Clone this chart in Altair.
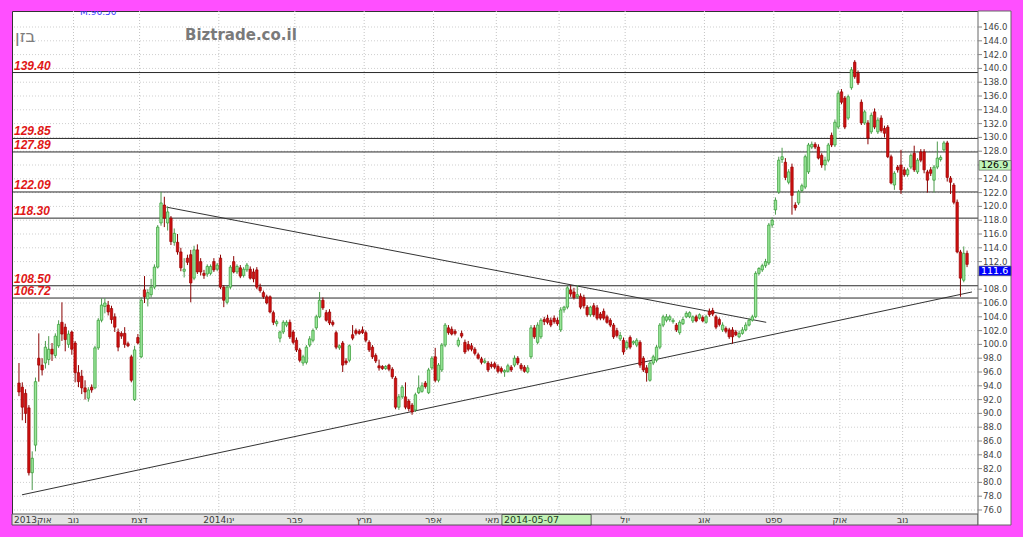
import altair as alt
import pandas as pd

# Daily candles for BAZAN, Oct 2013 - Nov 2014 (one entry per trading day)
opens = [
    94.4, 93.8, 92.9, 90.8, 81.4, 85.4, 98.0, 97.0, 97.3, 97.8,
    99.3, 98.4, 99.8, 103.2, 102.5, 100.0, 101.8, 100.2, 95.9, 95.4,
    93.7, 92.2, 93.8, 93.7, 99.5, 103.5, 105.5, 105.7, 105.2, 104.0,
    101.8, 101.6, 101.6, 100.1, 98.2, 92.0, 101.0, 98.2, 107.9, 106.6,
    107.2, 108.3, 111.2, 117.6, 120.2, 117.6, 118.3, 114.8, 114.8, 113.4,
    110.6, 112.5, 113.0, 109.6, 113.7, 112.0, 110.3, 110.2, 110.3, 112.0,
    110.9, 112.5, 108.3, 106.1, 108.3, 112.0, 110.5, 111.1, 110.0, 110.8,
    110.9, 110.5, 110.8, 108.3, 107.5, 106.9, 106.9, 104.6, 103.0, 100.9,
    101.8, 102.8, 103.2, 101.8, 100.6, 99.2, 97.3, 97.4, 99.9, 100.6,
    102.4, 104.0, 106.4, 104.6, 104.7, 103.2, 101.7, 99.5, 100.2, 97.6,
    97.7, 101.4, 102.0, 101.9, 102.1, 101.7, 100.3, 99.6, 98.4, 96.9,
    96.8, 96.5, 97.0, 96.4, 95.1, 90.9, 92.4, 92.4, 91.8, 91.2,
    90.5, 93.0, 93.2, 94.4, 93.0, 96.6, 98.2, 94.8, 96.3, 99.9,
    102.4, 102.2, 101.9, 99.9, 101.6, 100.3, 100.0, 99.8, 99.3, 98.5,
    97.9, 97.4, 97.3, 97.1, 97.2, 96.8, 96.5, 96.0, 96.1, 96.7,
    97.0, 98.0, 97.0, 96.7, 96.0, 98.2, 102.4, 100.3, 101.1, 103.6,
    103.8, 103.5, 103.8, 103.5, 102.1, 105.0, 105.4, 107.9, 107.6, 106.9,
    107.0, 106.8, 105.4, 104.3, 105.6, 105.3, 104.4, 104.8, 104.0, 103.5,
    102.8, 102.0, 100.8, 100.6, 99.5, 101.0, 100.2, 99.9, 100.3, 98.0,
    96.6, 94.8, 97.3, 97.7, 99.6, 102.8, 103.5, 103.6, 103.3, 102.8,
    101.7, 103.0, 104.0, 104.0, 103.4, 104.0, 103.8, 103.9, 103.2, 104.8,
    104.9, 104.0, 103.6, 102.1, 102.3, 102.1, 102.1, 101.8, 101.1, 101.6,
    102.1, 102.8, 103.5, 104.0, 110.3, 110.8, 111.4, 111.8, 117.3, 119.5,
    122.1, 126.8, 126.4, 123.5, 125.7, 120.2, 120.5, 122.3, 122.8, 125.0,
    128.6, 129.0, 128.6, 127.4, 126.0, 126.7, 130.3, 128.9, 131.5, 136.6,
    135.7, 132.8, 137.2, 140.9, 139.3, 135.1, 132.1, 132.1, 130.8, 133.7,
    130.8, 132.8, 131.3, 131.5, 127.2, 123.1, 125.7, 126.0, 125.3, 124.6,
    125.7, 127.7, 125.0, 127.9, 127.9, 125.0, 125.3, 123.8, 125.7, 126.8,
    128.2, 129.2, 124.1, 123.1, 120.6, 113.4, 109.3, 113.2,
]
highs = [
    97.3, 94.5, 93.5, 91.2, 84.5, 95.2, 101.6, 98.0, 100.5, 101.2,
    100.2, 101.6, 103.5, 106.1, 103.0, 102.0, 102.0, 100.5, 97.0, 96.3,
    94.8, 93.8, 94.2, 99.8, 103.8, 106.7, 106.7, 106.3, 105.6, 104.5,
    102.3, 101.9, 102.5, 100.4, 98.5, 99.8, 101.5, 106.8, 109.9, 108.0,
    109.5, 111.6, 117.3, 122.1, 121.4, 120.0, 118.6, 116.8, 116.0, 114.0,
    112.5, 113.0, 113.7, 114.3, 114.5, 112.5, 110.8, 111.6, 111.6, 112.5,
    111.8, 113.0, 108.6, 108.5, 111.5, 112.8, 111.6, 111.5, 111.2, 111.8,
    111.3, 111.0, 111.2, 108.8, 107.8, 107.2, 107.1, 104.9, 103.6, 102.0,
    103.5, 103.5, 103.6, 102.1, 101.0, 99.5, 98.5, 99.9, 101.2, 102.3,
    104.3, 107.6, 106.8, 105.0, 105.1, 103.5, 102.0, 100.0, 100.5, 98.0,
    100.0, 102.8, 102.3, 102.2, 102.6, 102.0, 100.6, 99.9, 98.7, 97.8,
    97.0, 97.0, 97.2, 96.7, 95.4, 92.8, 94.1, 94.5, 92.1, 91.5,
    93.0, 95.5, 94.5, 94.7, 96.6, 98.3, 99.5, 97.3, 100.2, 103.1,
    102.8, 102.6, 102.2, 101.0, 102.0, 100.7, 100.5, 100.2, 99.6, 98.8,
    98.2, 98.0, 97.6, 97.5, 97.5, 97.1, 96.8, 96.4, 97.2, 97.0,
    98.4, 98.3, 97.3, 97.0, 97.0, 102.8, 102.8, 103.2, 103.8, 104.0,
    104.3, 103.9, 104.2, 103.9, 105.4, 105.6, 108.5, 108.6, 108.2, 108.6,
    107.4, 107.2, 105.7, 105.6, 106.0, 105.7, 104.7, 105.2, 104.3, 103.8,
    103.1, 102.4, 101.8, 101.0, 100.6, 101.3, 100.6, 100.9, 100.6, 98.3,
    97.0, 97.6, 98.5, 99.9, 103.1, 104.3, 104.4, 104.3, 103.8, 103.1,
    103.5, 104.0, 104.8, 104.8, 104.2, 104.3, 104.5, 104.2, 104.3, 105.2,
    105.3, 104.3, 103.9, 103.2, 102.6, 102.4, 102.5, 102.1, 102.0, 102.5,
    103.2, 103.8, 104.3, 110.6, 111.2, 111.7, 112.4, 117.6, 118.4, 121.3,
    127.2, 128.5, 127.0, 125.4, 126.2, 120.6, 122.4, 123.3, 127.5, 129.2,
    129.4, 129.3, 129.0, 127.7, 127.2, 129.2, 130.7, 132.6, 136.8, 137.0,
    136.0, 136.2, 140.2, 141.2, 139.7, 135.5, 134.0, 132.5, 133.6, 134.2,
    132.9, 133.2, 131.7, 131.8, 127.5, 125.1, 126.0, 128.2, 125.7, 125.6,
    127.7, 128.8, 127.0, 128.3, 128.3, 125.3, 125.7, 126.0, 129.4, 127.4,
    129.5, 129.5, 124.4, 123.4, 121.0, 113.7, 114.2, 113.6,
]
lows = [
    92.5, 89.0, 88.6, 81.0, 78.9, 84.5, 94.6, 95.5, 96.5, 97.0,
    97.6, 98.0, 99.5, 100.5, 99.0, 99.5, 98.5, 94.5, 93.8, 92.8,
    92.0, 91.7, 93.0, 93.5, 99.2, 103.2, 104.5, 104.2, 103.0, 101.8,
    99.0, 100.8, 99.5, 99.6, 94.5, 91.8, 100.0, 98.0, 106.0, 105.5,
    106.8, 108.0, 111.0, 117.2, 117.0, 116.5, 114.4, 114.3, 113.0, 110.6,
    109.7, 111.5, 106.1, 109.3, 110.2, 110.0, 109.5, 109.8, 110.0, 110.5,
    110.6, 108.0, 105.4, 105.8, 108.0, 110.3, 110.2, 109.6, 109.7, 110.5,
    109.4, 109.0, 108.0, 107.5, 106.6, 105.8, 104.5, 102.8, 102.6, 100.3,
    101.5, 102.5, 100.8, 100.0, 98.9, 97.4, 96.9, 97.1, 99.6, 100.3,
    102.1, 103.8, 105.0, 103.3, 102.8, 102.6, 99.3, 99.2, 96.0, 97.0,
    97.4, 100.6, 101.3, 101.4, 101.5, 100.3, 98.9, 97.9, 97.3, 96.2,
    96.3, 96.3, 96.1, 95.0, 90.6, 90.5, 92.1, 90.6, 90.3, 89.8,
    90.2, 92.8, 93.0, 93.6, 92.8, 96.3, 94.5, 94.5, 96.0, 99.6,
    101.4, 101.3, 101.3, 99.6, 100.9, 98.6, 99.0, 99.0, 98.4, 97.8,
    97.1, 97.2, 96.0, 96.5, 96.4, 95.8, 95.8, 95.3, 95.9, 96.0,
    96.7, 97.0, 96.2, 95.9, 95.8, 97.9, 100.8, 100.0, 100.8, 102.8,
    102.9, 102.5, 103.0, 102.7, 101.8, 104.6, 105.1, 106.9, 106.5, 106.6,
    105.1, 105.2, 104.0, 104.0, 104.0, 103.5, 103.5, 103.5, 103.0, 102.5,
    100.8, 101.0, 100.5, 98.5, 99.2, 99.3, 99.9, 99.6, 96.6, 96.0,
    94.6, 94.6, 97.0, 97.4, 99.3, 102.5, 103.2, 103.3, 103.0, 101.8,
    101.4, 102.8, 103.8, 103.8, 103.1, 103.2, 103.6, 103.2, 103.0, 104.0,
    104.1, 102.2, 102.6, 101.8, 101.6, 100.8, 100.1, 101.2, 100.9, 101.4,
    101.9, 102.6, 103.3, 103.8, 110.0, 110.5, 111.1, 111.5, 116.9, 118.8,
    121.8, 126.3, 123.8, 123.2, 118.8, 119.4, 120.2, 122.0, 122.5, 124.7,
    128.3, 128.3, 126.8, 125.6, 125.2, 126.4, 128.6, 128.6, 131.2, 134.8,
    131.2, 132.5, 136.9, 138.5, 137.6, 131.8, 131.8, 129.0, 130.5, 131.2,
    130.5, 130.7, 130.0, 127.0, 123.2, 122.4, 124.9, 121.8, 124.3, 124.3,
    125.4, 125.0, 124.7, 126.4, 124.8, 122.0, 124.4, 122.0, 125.4, 126.5,
    127.9, 123.6, 121.8, 120.3, 113.2, 106.9, 109.0, 111.2,
]
closes = [
    93.1, 90.9, 90.0, 81.4, 83.5, 94.6, 97.0, 96.3, 99.6, 99.3,
    98.6, 101.2, 102.9, 101.5, 100.7, 101.5, 99.3, 95.9, 94.6, 93.7,
    93.1, 93.4, 93.4, 99.5, 103.5, 105.7, 106.0, 104.7, 103.6, 102.5,
    99.6, 101.2, 100.0, 99.8, 94.8, 99.2, 100.2, 106.4, 106.9, 107.5,
    108.3, 111.2, 117.0, 120.5, 118.3, 119.2, 114.9, 116.1, 113.4, 111.1,
    110.9, 111.9, 108.9, 113.7, 110.5, 110.5, 110.0, 111.3, 111.3, 110.8,
    111.5, 108.3, 106.4, 108.3, 111.2, 110.5, 111.3, 109.9, 110.9, 111.5,
    109.6, 109.5, 108.3, 107.8, 106.9, 106.0, 104.7, 103.2, 103.3, 101.8,
    103.2, 103.2, 101.1, 100.3, 99.2, 97.7, 98.2, 99.6, 100.8, 102.0,
    104.0, 106.4, 105.3, 103.5, 103.1, 102.9, 99.6, 99.8, 97.0, 97.3,
    99.8, 100.9, 101.6, 101.6, 101.7, 100.6, 99.2, 98.2, 97.6, 96.6,
    96.5, 96.8, 96.4, 95.3, 90.9, 92.4, 93.8, 90.9, 90.7, 90.2,
    92.7, 93.7, 94.0, 93.9, 96.3, 98.0, 94.8, 97.0, 99.9, 102.8,
    101.7, 101.5, 101.6, 100.6, 101.2, 98.9, 99.3, 99.3, 98.7, 98.0,
    97.4, 97.6, 96.3, 96.8, 96.7, 96.1, 96.1, 96.2, 96.9, 96.3,
    98.0, 97.3, 96.5, 96.1, 96.6, 102.4, 101.1, 102.8, 103.5, 103.3,
    103.2, 102.8, 103.3, 103.0, 105.0, 105.4, 108.2, 107.3, 106.8, 107.2,
    105.4, 105.6, 104.3, 105.4, 104.3, 103.8, 103.8, 103.8, 103.2, 102.8,
    101.1, 101.3, 101.3, 98.9, 100.3, 99.6, 100.4, 100.6, 97.0, 96.3,
    95.9, 97.3, 98.2, 99.6, 102.8, 104.0, 104.0, 104.0, 103.5, 102.1,
    103.2, 103.6, 104.5, 104.6, 104.0, 103.4, 104.3, 103.4, 104.0, 104.3,
    104.4, 102.5, 102.9, 102.8, 101.9, 101.1, 101.1, 101.4, 101.6, 102.1,
    102.8, 103.5, 104.0, 110.3, 111.0, 111.4, 112.0, 117.3, 118.0, 120.9,
    126.7, 127.2, 124.2, 125.0, 121.6, 119.8, 122.1, 123.0, 127.2, 128.9,
    129.0, 128.6, 127.0, 126.0, 126.7, 128.9, 128.9, 132.2, 136.4, 135.1,
    131.5, 135.9, 139.8, 138.8, 137.9, 132.1, 133.7, 129.9, 133.2, 131.5,
    132.5, 131.0, 130.6, 127.2, 123.4, 124.8, 125.3, 122.4, 124.6, 125.3,
    127.4, 125.3, 126.7, 126.7, 125.3, 123.8, 124.8, 125.7, 127.0, 127.1,
    129.2, 124.2, 123.5, 120.6, 113.4, 109.6, 113.2, 111.6,
]

# Support / resistance levels marked on the chart
level_values = [139.40, 129.85, 127.89, 122.09, 118.30, 108.50, 106.72]
level_labels = ["139.40", "129.85", "127.89", "122.09", "118.30", "108.50", "106.72"]

# Trend lines (trading-day index, price)
support_days = [0.9, 288.5]
support_prices = [78.2, 107.6]
resistance_days = [44.6, 226.2]
resistance_prices = [119.9, 103.2]

# Month boundaries on the trading-day axis; the June label sits under the cursor box
month_starts = [16.5, 36.5, 60.5, 83.5, 104.5, 125.5, 144.5, 163.5, 183.5, 207.5, 228.5, 248.5, 267.5]
label_days = [16.5, 36.5, 60.5, 83.5, 104.5, 125.5, 143.3, 183.5, 207.5, 228.5, 248.5, 267.5]
label_names = ["נוב", "דצמ", "2014ינו", "פבר", "מרץ", "אפר", "מאי", "יול", "אוג", "ספט", "אוק", "נוב"]
first_month_label = "2013אוק"

price_ticks = list(range(76, 147, 2))
# price labels hidden behind the value markers on the price axis
covered_ticks = [126, 110]

# Cursor date on the time axis, and current-value markers on the price axis
cursor_day = 146.2
cursor_width_days = 27.0
cursor_text = "2014-05-07"
marker_values = [126.9, 111.6]
marker_texts = ["126.9", "111.6"]
marker_fills = ["#bff5b8", "#0000ff"]
marker_text_colors = ["#000000", "#ffffff"]

W, H = 966, 503
xs = alt.Scale(domain=[-0.6, 288.8], nice=False, zero=False)
ys = alt.Scale(domain=[75.42, 148.32], nice=False, zero=False)

candles = pd.DataFrame({
    "day": list(range(len(closes))),
    "open": opens, "high": highs, "low": lows, "close": closes,
})
candles["top"] = candles[["open", "close"]].max(axis=1)
candles["bottom"] = candles[["open", "close"]].min(axis=1)

X = lambda f: alt.X(f, scale=xs, axis=None)
Y = lambda f: alt.Y(f, scale=ys, axis=None)
one = pd.DataFrame({"k": [0]})
rising = "datum.close >= datum.open"

hgrid = alt.Chart(pd.DataFrame({"v": price_ticks})).mark_rule(
    color="#cfcfcf", strokeDash=[1, 2], strokeWidth=1
).encode(y=Y("v:Q"))

vgrid = alt.Chart(pd.DataFrame({"d": month_starts})).mark_rule(
    color="#c4c4c4", strokeDash=[1, 2], strokeWidth=1
).encode(x=X("d:Q"))

levels_df = pd.DataFrame({"v": level_values, "label": level_labels})
level_lines = alt.Chart(levels_df).mark_rule(color="#2a2a2a", strokeWidth=1).encode(y=Y("v:Q"))
level_text = alt.Chart(levels_df).mark_text(
    align="left", baseline="alphabetic", dy=-3, fontSize=12, fontStyle="italic",
    fontWeight="bold", font="Liberation Sans", color="#e01818"
).encode(x=alt.value(2), y=Y("v:Q"), text="label:N")

trend_df = pd.DataFrame({
    "day": support_days + resistance_days,
    "price": support_prices + resistance_prices,
    "line": ["support"] * 2 + ["resistance"] * 2,
})
trends = alt.Chart(trend_df).mark_line(color="#333333", strokeWidth=1).encode(
    x=X("day:Q"), y=Y("price:Q"), detail="line:N"
)

wicks = alt.Chart(candles).mark_rule(strokeWidth=1).encode(
    x=X("day:Q"), y=Y("low:Q"), y2="high:Q",
    color=alt.condition(rising, alt.value("#4e9a4e"), alt.value("#8a0000")),
)
bodies = alt.Chart(candles).mark_bar(size=2.4, strokeWidth=0.7).encode(
    x=X("day:Q"), y=Y("bottom:Q"), y2="top:Q",
    fill=alt.condition(rising, alt.value("#9be69b"), alt.value("#d01010")),
    stroke=alt.condition(rising, alt.value("#2f9a2f"), alt.value("#9a0000")),
)

ticker = alt.Chart(one).mark_text(
    align="left", baseline="middle", fontSize=17, font="DejaVu Sans", color="#7d7d7d"
).encode(x=alt.value(3), y=alt.value(26), text=alt.value("בזן"))
brand = alt.Chart(one).mark_text(
    align="left", baseline="middle", fontSize=15, fontWeight="bold",
    font="DejaVu Sans", color="#7a7a7a"
).encode(x=alt.value(173), y=alt.value(24), text=alt.value("Biztrade.co.il"))
ma_text = alt.Chart(one).mark_text(
    align="left", baseline="middle", fontSize=9, font="DejaVu Sans",
    color="#3a3aff", clip=True
).encode(x=alt.value(68), y=alt.value(1), text=alt.value("M:96.50"))

band = alt.Chart(one).mark_rect(fill="#e3e3e3", stroke="#555555", strokeWidth=1).encode(
    x=alt.value(0), x2=alt.value(W), y=alt.value(H), y2=alt.value(H + 11)
)
side = alt.Chart(one).mark_rect(fill="white", stroke="#666666", strokeWidth=1).encode(
    x=alt.value(W), x2=alt.value(W + 33), y=alt.value(0), y2=alt.value(H + 11)
)

ticks_df = pd.DataFrame({"v": price_ticks, "label": [f"{v:.1f}" for v in price_ticks]})
shown_ticks_df = ticks_df[~ticks_df["v"].isin(covered_ticks)]
tick_marks = alt.Chart(ticks_df).mark_rule(color="#888888").encode(
    x=alt.value(W), x2=alt.value(W + 4), y=Y("v:Q")
)
tick_labels = alt.Chart(shown_ticks_df).mark_text(
    align="left", baseline="middle", fontSize=8.5, font="DejaVu Sans", color="#444444"
).encode(x=alt.value(W + 5), y=Y("v:Q"), text="label:N")

months_df = pd.DataFrame({"d": label_days, "name": label_names})
month_labels = alt.Chart(months_df).mark_text(
    align="center", baseline="middle", fontSize=9, font="DejaVu Sans", color="#3a3a3a"
).encode(x=X("d:Q"), y=alt.value(H + 6), text="name:N")
first_label = alt.Chart(one).mark_text(
    align="left", baseline="middle", fontSize=9, font="DejaVu Sans", color="#3a3a3a"
).encode(x=alt.value(2), y=alt.value(H + 6), text=alt.value(first_month_label))

cursor_df = pd.DataFrame({"d0": [cursor_day], "d1": [cursor_day + cursor_width_days], "t": [cursor_text]})
cursor_box = alt.Chart(cursor_df).mark_rect(fill="#c2f2b6", stroke="#3a3a3a", strokeWidth=0.8).encode(
    x=X("d0:Q"), x2="d1:Q", y=alt.value(H + 0.5), y2=alt.value(H + 11)
)
cursor_label = alt.Chart(cursor_df).mark_text(
    align="left", baseline="middle", dx=2, fontSize=9.5, font="DejaVu Sans", color="#1f3a1f"
).encode(x=X("d0:Q"), y=alt.value(H + 6), text="t:N")

# value markers hang just below the price they show
markers_df = pd.DataFrame({
    "v": marker_values,
    "hi": [v - 0.25 for v in marker_values],
    "lo": [v - 1.65 for v in marker_values],
    "mid": [v - 0.95 for v in marker_values],
    "t": marker_texts,
    "fill": marker_fills,
    "tc": marker_text_colors,
})
marker_boxes = alt.Chart(markers_df).mark_rect(stroke="#555555", strokeWidth=0.6).encode(
    x=alt.value(W + 1), x2=alt.value(W + 33), y=Y("hi:Q"), y2="lo:Q",
    fill=alt.Fill("fill:N", scale=None),
)
marker_labels = alt.Chart(markers_df).mark_text(
    align="left", baseline="middle", fontSize=9.5, font="DejaVu Sans"
).encode(
    x=alt.value(W + 3), y=Y("mid:Q"), text="t:N",
    color=alt.Color("tc:N", scale=None),
)

chart = alt.layer(
    hgrid, vgrid, level_lines, trends, wicks, bodies, level_text,
    ticker, brand, ma_text,
    band, side, tick_marks, tick_labels, month_labels, first_label,
    cursor_box, cursor_label, marker_boxes, marker_labels,
).properties(
    width=W, height=H,
    padding={"left": 12, "top": 11, "right": 45, "bottom": 23},
    autosize=alt.AutoSizeParams(type="none"),
    background="#ff4fff",
).configure_view(fill="white", stroke="#333333", strokeWidth=1)

chart.save("out.html", embed_options={"renderer": "svg", "actions": False})
